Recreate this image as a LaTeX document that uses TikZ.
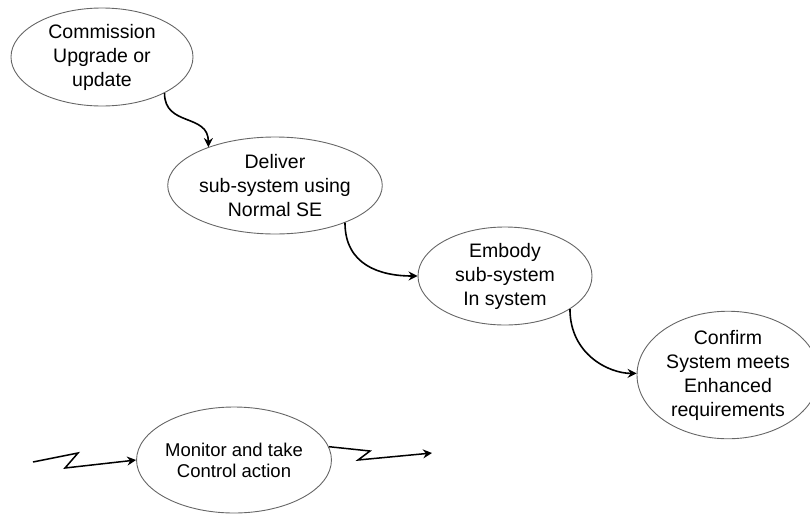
\documentclass[tikz,border=0pt]{standalone}
\usepackage{fontspec}
\setmainfont{Liberation Sans}
\usetikzlibrary{shapes.geometric,arrows.meta}
\definecolor{rimgray}{HTML}{666666}
\tikzset{
  stage/.style={ellipse, draw=rimgray, line width=0.9pt, inner sep=0pt,
    align=center, font=\fontsize{19.5}{24}\selectfont, text=black},
  flow/.style={draw=black, line width=1.6pt,
    -{Stealth[length=9pt,width=9pt,inset=3pt]}},
  bolt/.style={draw=black, line width=1.5pt, line join=miter,
    -{Stealth[length=9pt,width=9pt,inset=3pt]}}
}
\begin{document}
\begin{tikzpicture}[x=1pt,y=-1pt]
  \useasboundingbox (0,0) rectangle (810,514);
  \clip (0,0) rectangle (810,514);

  % process stages
  \node[stage, minimum width=182pt, minimum height=98pt] (c1) at (102,57)
    {Commission\\Upgrade or\\update};
  \node[stage, minimum width=180pt, minimum height=97pt] (c2) at (275,185.5)
    {Deliver\\sub-system using\\Normal SE};
  \node[stage, minimum width=174pt, minimum height=98pt] (c3) at (505,276)
    {Embody\\sub-system\\In system};
  \node[stage, minimum width=182pt, minimum height=110pt] (c4) at (728,375)
    {Confirm\\System meets\\Enhanced\\requirements};
  \node[stage, minimum width=192pt, minimum height=106pt,
        font=\fontsize{18.5}{21}\selectfont] (mon) at (234,460)
    {Monitor and take\\Control action};

  % sequence between stages
  \draw[flow] (c1.-30) .. controls +(0,34) and +(0,-34) .. (c2.150);
  \draw[flow] (c2.-28) .. controls +(0,42) and +(-38,0) .. (c3.180);
  \draw[flow] (c3.-27) .. controls +(0,45) and +(-28,0) .. (c4.179);

  % control loop input and output
  \coordinate (inA) at (33,462);
  \coordinate (inB) at (78,453);
  \coordinate (inC) at (65,468);
  \coordinate (outB) at (370,451);
  \coordinate (outC) at (358,460);
  \coordinate (outD) at (432,453);
  \draw[bolt] (inA) -- (inB) -- (inC) -- (mon.west);
  \draw[bolt] (mon.8) -- (outB) -- (outC) -- (outD);
\end{tikzpicture}
\end{document}
